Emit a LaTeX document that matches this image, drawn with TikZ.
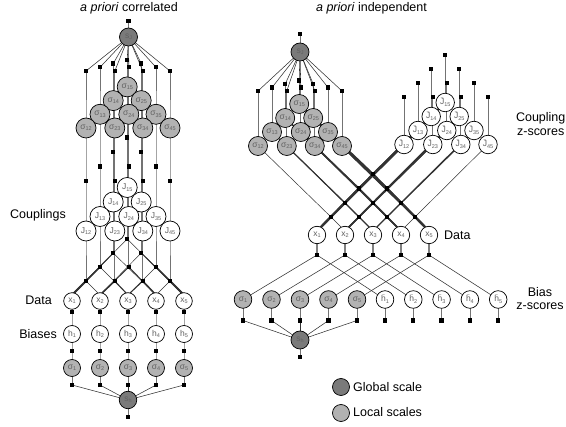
\documentclass[tikz,border=0pt]{standalone}
\usepackage{fontspec}
\setmainfont{Liberation Sans}
\pgfdeclarelayer{edgelayer}
\pgfsetlayers{edgelayer,main}
\newcommand\sbs[1]{\raisebox{-0.3ex}{\fontsize{5.5}{5.5}\selectfont #1}}
\newsavebox\tildebox
\newcommand\tildeon[1]{\sbox\tildebox{#1}\makebox[\wd\tildebox][c]{\smash{\raisebox{0.6em}{\fontsize{5}{5}\selectfont\char"007E}}}\kern-\wd\tildebox\usebox\tildebox}
\begin{document}
\begin{tikzpicture}[x=1pt,y=-1pt,
  nd/.style={circle, draw=black, line width=0.7pt, inner sep=0pt, text=black!62, font=\fontsize{8.5}{8.5}\selectfont},
  dk/.style={nd, fill=black!52},
  lt/.style={nd, fill=black!30},
  wt/.style={nd, fill=white},
  fc/.style={rectangle, fill=black, minimum size=4.3pt, inner sep=0pt},
  ln/.style={draw=black!80, line width=0.55pt},
  vl/.style={draw=black!55, line width=0.75pt},
  lb/.style={font=\fontsize{12.5}{12.5}\selectfont, inner sep=0pt, text=black}]
\useasboundingbox (0,0) rectangle (566,427);

% ---------------- left panel ----------------
\node[dk, minimum size=18pt] (sJL) at (128.5,37) {s\sbs{J}};
\node[fc] (sJLp) at (128.5,21) {};
\foreach \i/\j/\off in {1/5/-0.8,1/4/-0.8,2/5/-0.8,1/3/0,2/4/0.8,3/5/0,1/2/0,2/3/0.8,3/4/0.8,4/5/0}{
  \pgfmathsetmacro\dd{\j-\i}
  \pgfmathsetmacro\cx{72+14*(\i+\j-2)+\off}
  \node[lt, minimum size=20pt] (sL\i\j) at (\cx,{128-13.7*(\dd-1)}) {σ\sbs{\i\j}};
  \node[fc] (tL\i\j) at (\cx,{71-3.7*(\dd-1)}) {};
  \node[fc] (mL\i\j) at (\cx,{181-14.5*(\dd-1)}) {};
  \node[wt, minimum size=20pt] (JL\i\j) at (\cx,{231-14.5*(\dd-1)}) {J\sbs{\i\j}};
  \node[fc] (fL\i\j) at (\cx,{281-14*(\dd-1)}) {};
}
\foreach \i in {1,...,5}{
  \pgfmathsetmacro\cx{72+28*(\i-1)}
  \node[wt, minimum size=16.6pt] (xL\i) at (\cx,301) {x\sbs{\i}};
  \coordinate (xaL\i) at (\cx,295);
  \node[fc] (gL\i) at (\cx,312) {};
  \node[wt, minimum size=17pt] (hL\i) at (\cx,334) {h\sbs{\i}};
  \node[fc] (kL\i) at (\cx,351) {};
  \node[lt, minimum size=17pt] (rL\i) at (\cx,368) {σ\sbs{\i}};
  \node[fc] (qL\i) at (\cx,385) {};
}
\node[dk, minimum size=17.5pt] (shL) at (128,400) {s\sbs{h}};
\node[fc] (shLp) at (128,417) {};

% ---------------- right panel ----------------
\node[dk, minimum size=18pt] (sJR) at (300,52) {s\sbs{J}};
\node[fc] (sJRp) at (300,34) {};
\foreach \i/\j/\off in {1/5/-0.8,1/4/-0.8,2/5/-0.8,1/3/0,2/4/0.8,3/5/0,1/2/0,2/3/0.8,3/4/0.8,4/5/0}{
  \pgfmathsetmacro\dd{\j-\i}
  \pgfmathsetmacro\cx{258+14*(\i+\j-3)+\off}
  \pgfmathsetmacro\cz{404+14*(\i+\j-3)+\off}
  \node[lt, minimum size=19pt] (sR\i\j) at (\cx,{146-14*(\dd-1)}) {σ\sbs{\i\j}};
  \node[fc] (tR\i\j) at (\cx,{91-3.5*(\dd-1)}) {};
  \node[wt, minimum size=18.5pt] (JR\i\j) at (\cz,{144.5-14*(\dd-1)}) {\tildeon{J}\sbs{\i\j}};
  \node[fc] (uR\i\j) at (\cz,{97-14*(\dd-1)}) {};
  \node[fc] (fR\i\j) at ({317+14*(\i+\j-2)},{217-14.3*(\dd-1)}) {};
}
\foreach \i in {1,...,5}{
  \pgfmathsetmacro\cx{317+28*(\i-1)}
  \node[wt, minimum size=17.4pt] (xR\i) at (\cx,235) {x\sbs{\i}};
  \coordinate (xaR\i) at (\cx,231);
  \node[fc] (gR\i) at (\cx,255) {};
  \node[lt, minimum size=17.6pt] (rR\i) at ({243+28.5*(\i-1)},299.5) {σ\sbs{\i}};
  \node[wt, minimum size=17.6pt] (hR\i) at ({385+28.3*(\i-1)},299.5) {\tildeon{h}\sbs{\i}};
  \node[fc] (kR\i) at ({243+28.5*(\i-1)},320.5) {};
  \node[fc] (lR\i) at ({385+28.3*(\i-1)},320.5) {};
}
\node[dk, minimum size=18pt] (shR) at (300,340) {s\sbs{h}};
\node[fc] (shRp) at (300,357) {};

% legend
\node[dk, minimum size=17pt] (lg1) at (341,387) {};
\node[lb, anchor=base west] (lg1t) at (353,391.5) {Global scale};
\node[lt, minimum size=17pt] (lg2) at (341,413) {};
\node[lb, anchor=base west] (lg2t) at (353,417) {Local scales};

% labels
\node[lb, anchor=base] (tt1) at (129,11.5) {\textit{a priori} correlated};
\node[lb, anchor=base] (tt2) at (371.5,11.5) {\textit{a priori} independent};
\node[lb, anchor=base east] (lc) at (66,219) {Couplings};
\node[lb, anchor=base east] (ld) at (52,305) {Data};
\node[lb, anchor=base east] (lbs) at (57,338.5) {Biases};
\node[lb, anchor=base west] (rd) at (444,239.5) {Data};
\node[lb, anchor=base] (rc1) at (540.7,121.5) {Coupling};
\node[lb, anchor=base] (rc2) at (540.7,136) {z-scores};
\node[lb, anchor=base] (rb1) at (540,297) {Bias};
\node[lb, anchor=base] (rb2) at (540,309.5) {z-scores};

% ---------------- edges ----------------
\begin{pgfonlayer}{edgelayer}
\draw[vl] (sJLp.center) -- (sJL.center);
\foreach \i/\j in {1/2,1/3,1/4,1/5,2/3,2/4,2/5,3/4,3/5,4/5}{
  \draw[ln] (sJL.center) -- (tL\i\j.center);
  \draw[vl] (tL\i\j.center) -- (sL\i\j.center) -- (mL\i\j.center) -- (JL\i\j.center) -- (fL\i\j.center);
  \pgfmathsetmacro\wa{0.5*(6-\j)}
  \pgfmathsetmacro\wb{0.5*\i}
  \draw[ln, line width=\wa pt] (fL\i\j.center) -- (xaL\i);
  \draw[ln, line width=\wb pt] (fL\i\j.center) -- (xaL\j);
}
\foreach \i in {1,...,5}{
  \draw[vl] (xL\i.center) -- (gL\i.center) -- (hL\i.center) -- (kL\i.center) -- (rL\i.center) -- (qL\i.center);
  \draw[ln] (qL\i.center) -- (shL.center);
}
\draw[vl] (shL.center) -- (shLp.center);

\draw[vl] (sJRp.center) -- (sJR.center);
\foreach \i/\j in {1/2,1/3,1/4,1/5,2/3,2/4,2/5,3/4,3/5,4/5}{
  \draw[ln] (sJR.center) -- (tR\i\j.center);
  \draw[vl] (tR\i\j.center) -- (sR\i\j.center);
  \draw[vl] (uR\i\j.center) -- (JR\i\j.center);
  \pgfmathsetmacro\wa{0.5*(5-\i)}
  \pgfmathsetmacro\wb{0.5*(\j-1)}
  \draw[ln, line width=\wb pt] (sR\i\j.center) -- (fR\i\j.center) -- (xaR\j);
  \draw[ln, line width=\wa pt] (JR\i\j.center) -- (fR\i\j.center) -- (xaR\i);
}
\foreach \i in {1,...,5}{
  \draw[draw=black!50, line width=1.3pt] (xR\i.center) -- (gR\i.center);
  \draw[ln] (gR\i.center) -- (rR\i.center);
  \draw[ln] (gR\i.center) -- (hR\i.center);
  \draw[vl] (rR\i.center) -- (kR\i.center);
  \draw[vl] (hR\i.center) -- (lR\i.center);
  \draw[ln] (kR\i.center) -- (shR.center);
}
\draw[vl] (shR.center) -- (shRp.center);
\end{pgfonlayer}
\end{tikzpicture}
\end{document}
